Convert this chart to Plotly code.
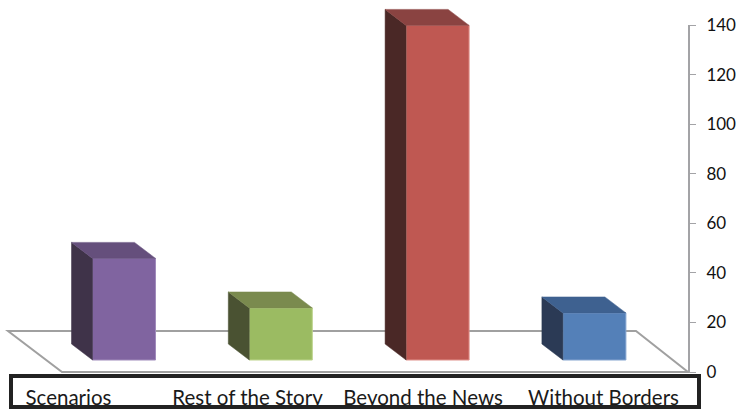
import plotly.graph_objects as go

categories = ["Scenarios", "Rest of the Story", "Beyond the News", "Without Borders"]
values = [41, 21, 135, 19]
tick_values = [0, 20, 40, 60, 80, 100, 120, 140]
front_colors = ["#8064A0", "#9BBB62", "#BF5852", "#5480B8"]
side_colors = ["#3F3349", "#4A5232", "#4A2826", "#2B3A55"]
top_colors = ["#654F7C", "#7A8A4E", "#8A4341", "#3E6190"]
edge_colors = ["#A08BBB", "#BDD48C", "#E0928C", "#86A5D0"]

W, H = 740, 411
L, R, T, B = 0, 52, 4, 39
PW, PH = W - L - R, H - T - B
SLOT = 156.8          # px per category
X0 = 124              # px of first bar centre
XMIN, XMAX = (0 - X0) / SLOT, (PW - X0) / SLOT
PXY = 347 / 140       # px per unit of value
YTOP = PH / PXY
BAR_W = 63 / SLOT
BASE = 12 / PXY       # bar front sits above the floor's front edge
DX = 21 / SLOT        # perspective offset
DY = 16 / PXY


def px(x):
    return x / PW


def py(y):
    return (H - B - y) / PH


fig = go.Figure()
for i, v in enumerate(values):
    fig.add_bar(x=[i], y=[v], base=[BASE], width=BAR_W,
                marker=dict(color=front_colors[i], line=dict(color=edge_colors[i], width=1)),
                showlegend=False, hoverinfo="skip")
    xl, xr = i - BAR_W / 2, i + BAR_W / 2
    yb, yt = BASE, BASE + v
    fig.add_scatter(x=[xl, xl - DX, xl - DX, xl, xl], y=[yb, yb + DY, yt + DY, yt, yb],
                    mode="lines", fill="toself", fillcolor=side_colors[i],
                    line=dict(color=side_colors[i], width=0.5),
                    showlegend=False, hoverinfo="skip")
    fig.add_scatter(x=[xl, xl - DX, xr - DX, xr, xl], y=[yt, yt + DY, yt + DY, yt, yt],
                    mode="lines", fill="toself", fillcolor=top_colors[i],
                    line=dict(color=top_colors[i], width=0.5),
                    showlegend=False, hoverinfo="skip")

# keeps the visible value axis alive
fig.add_scatter(x=[0], y=[0], yaxis="y2", mode="markers", marker=dict(opacity=0),
                showlegend=False, hoverinfo="skip")

floor_path = f"M {px(8)} {py(331)} L {px(636)} {py(331)} L {px(688)} {py(372)} L {px(62)} {py(372)} Z"
box_path = f"M {px(11)} {py(376)} L {px(699)} {py(376)} L {px(699)} {py(407)} L {px(11)} {py(407)} Z"

fig.update_layout(
    width=W, height=H, margin=dict(l=L, r=R, t=T, b=B, autoexpand=False),
    paper_bgcolor="white", plot_bgcolor="rgba(0,0,0,0)", barmode="overlay",
    xaxis=dict(range=[XMIN, XMAX], tickmode="array",
               tickvals=[(c - X0) / SLOT for c in (68.5, 247.5, 423, 603.5)],
               ticktext=categories, showgrid=False, zeroline=False, showline=False,
               ticks="", ticklabelstandoff=11,
               tickfont=dict(family="Lato", size=20.5, color="#1a1a1a")),
    yaxis=dict(range=[0, YTOP], visible=False),
    yaxis2=dict(range=[0, 140], domain=[0, 347 / PH], anchor="x", side="right",
                tickvals=tick_values, showgrid=False,
                zeroline=False, showline=True, linecolor="#A3A3A6", linewidth=2,
                ticks="outside", ticklen=6, tickcolor="#A3A3A6", tickwidth=1,
                ticklabelstandoff=7,
                tickfont=dict(family="Lato", size=17, color="#111111")),
    shapes=[
        dict(type="path", xref="paper", yref="paper", path=floor_path, layer="below",
             line=dict(color="#A0A0A0", width=2), fillcolor="white"),
        dict(type="path", xref="paper", yref="paper", path=box_path, layer="above",
             line=dict(color="#222222", width=4), fillcolor="rgba(0,0,0,0)"),
    ],
)
fig.write_html("out.html", config={"displayModeBar": False},
               post_script="document.body.style.margin='0';")
